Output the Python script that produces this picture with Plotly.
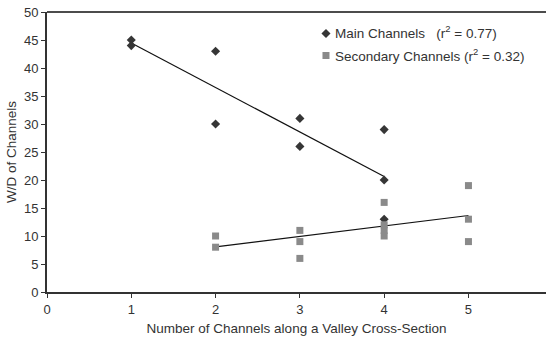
import numpy as np
import plotly.graph_objects as go

# Main channels: number of channels vs width/depth ratio
main_x = [1, 1, 2, 2, 3, 3, 4, 4, 4]
main_y = [45, 44, 43, 30, 31, 26, 29, 20, 13]

# Secondary channels
sec_x = [2, 2, 3, 3, 3, 4, 4, 4, 4, 5, 5, 5]
sec_y = [10, 8, 11, 9, 6, 16, 12, 11, 10, 19, 13, 9]

x_ticks = [0, 1, 2, 3, 4, 5]
y_ticks = [0, 5, 10, 15, 20, 25, 30, 35, 40, 45, 50]

MAIN_COLOR = "#363636"
SEC_COLOR = "#8a8a8a"
TEXT_COLOR = "#333"


def fit_line(xs, ys):
    slope, intercept = np.polyfit(xs, ys, 1)
    xe = np.array([min(xs), max(xs)], dtype=float)
    pred = slope * np.array(xs) + intercept
    r2 = 1 - np.sum((np.array(ys) - pred) ** 2) / np.sum((np.array(ys) - np.mean(ys)) ** 2)
    return xe, slope * xe + intercept, r2


mx, my, mr2 = fit_line(main_x, main_y)
sx, sy, sr2 = fit_line(sec_x, sec_y)

fig = go.Figure()
fig.add_trace(go.Scatter(x=mx, y=my, mode="lines", line=dict(color="#111", width=1.2),
                         showlegend=False, hoverinfo="skip"))
fig.add_trace(go.Scatter(x=sx, y=sy, mode="lines", line=dict(color="#111", width=1.2),
                         showlegend=False, hoverinfo="skip"))
fig.add_trace(go.Scatter(
    x=main_x, y=main_y, mode="markers", name="",
    marker=dict(symbol="diamond", size=7, color=MAIN_COLOR),
))
fig.add_trace(go.Scatter(
    x=sec_x, y=sec_y, mode="markers", name="",
    marker=dict(symbol="square", size=7, color=SEC_COLOR),
))

# Legend labels sit right next to the legend symbols
legend_labels = [
    f"Main Channels   (r<sup>2</sup> = {mr2:.2f})",
    f"Secondary Channels (r<sup>2</sup> = {sr2:.2f})",
]
label_y = [0.929, 0.847]
for text, yy in zip(legend_labels, label_y):
    fig.add_annotation(text=text, x=0.573, y=yy, xref="paper", yref="paper",
                       xanchor="left", yanchor="middle", showarrow=False,
                       font=dict(size=13.5, color=TEXT_COLOR))

# thin frame line along the top of the plot area
fig.add_shape(type="line", xref="paper", yref="paper", x0=0, x1=1, y0=1, y1=1,
              line=dict(color="#111", width=1.3))

fig.update_layout(
    width=546, height=339,
    margin=dict(l=47, r=0, t=12, b=47),
    paper_bgcolor="white", plot_bgcolor="white",
    font=dict(family="Liberation Sans, Arial, sans-serif", size=12, color=TEXT_COLOR),
    legend=dict(x=0.519, y=0.98, xanchor="left", yanchor="top",
                itemwidth=30, tracegroupgap=0,
                font=dict(size=14.5, color=TEXT_COLOR), bgcolor="rgba(0,0,0,0)"),
    xaxis=dict(range=[0, 5.92], tickvals=x_ticks, showgrid=False, zeroline=False,
               showline=True, linecolor="#333", linewidth=2,
               ticks="outside", ticklen=4, tickcolor="#333",
               tickfont=dict(size=13),
               title=dict(text="Number of Channels along a Valley Cross-Section",
                          font=dict(size=13.5), standoff=8)),
    yaxis=dict(range=[0, 50], tickvals=y_ticks, showgrid=False, zeroline=False,
               showline=True, linecolor="#333", linewidth=2,
               ticks="outside", ticklen=4, tickcolor="#333",
               tickfont=dict(size=13),
               title=dict(text="W/D of Channels", font=dict(size=13.5), standoff=4)),
)

fig.write_html("out.html")
